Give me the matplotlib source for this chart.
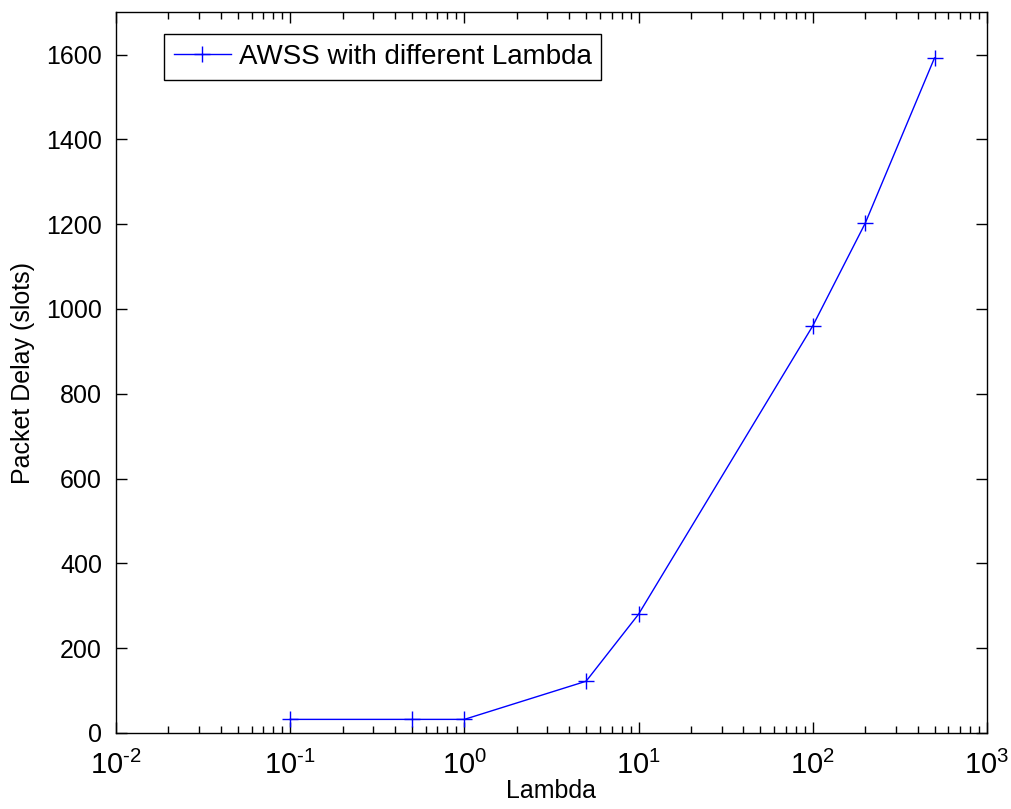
import numpy as np
import matplotlib.pyplot as plt
from matplotlib.ticker import LogLocator, FixedLocator

plt.rcParams['font.family'] = ['Liberation Sans', 'DejaVu Sans']
plt.rcParams['mathtext.fontset'] = 'custom'
plt.rcParams['mathtext.rm'] = 'Liberation Sans'
plt.rcParams['mathtext.default'] = 'regular'

# data
lam = [0.1, 0.5, 1, 5, 10, 100, 200, 500]
delay = [32, 32, 32, 122, 280, 960, 1202, 1592]
yticks = [0, 200, 400, 600, 800, 1000, 1200, 1400, 1600]
xdecades = [-2, -1, 0, 1, 2, 3]

fig = plt.figure(figsize=(10.11, 8.09), dpi=100)
ax = fig.add_axes([0.1147, 0.094, 0.8615, 0.891])

ax.plot(lam, delay, color='#0000ff', linewidth=1.0, marker='+',
        markersize=12, markeredgewidth=1.0, label='AWSS with different Lambda')

ax.set_xscale('log')
ax.set_xlim(1e-2, 1e3)
ax.set_ylim(0, 1700)
ax.set_yticks(yticks)
ax.xaxis.set_major_locator(FixedLocator([10.0 ** d for d in xdecades]))
ax.set_xticklabels([r'$10^{\text{%d}}$' % d for d in xdecades])
ax.xaxis.set_minor_locator(LogLocator(base=10, subs=np.arange(2, 10)))

ax.tick_params(which='both', direction='in', top=True, right=True,
               labelsize=18, width=1.0)
ax.tick_params(which='major', length=8, pad=10)
ax.tick_params(which='minor', length=5)
ax.tick_params(axis='x', which='major', labelsize=21, pad=13)
for s in ax.spines.values():
    s.set_linewidth(1.0)

ax.set_xlabel('Lambda', fontsize=18, labelpad=-1)
ax.set_ylabel('Packet Delay (slots)', fontsize=18, labelpad=8)

leg = ax.legend(loc='upper left', bbox_to_anchor=(0.055, 0.969), fontsize=20,
                fancybox=False, edgecolor='black', framealpha=1,
                handlelength=2.05, handletextpad=0.3, borderpad=0.35,
                borderaxespad=0)
leg.get_frame().set_linewidth(1.0)

fig.savefig('out.png', dpi=100)
